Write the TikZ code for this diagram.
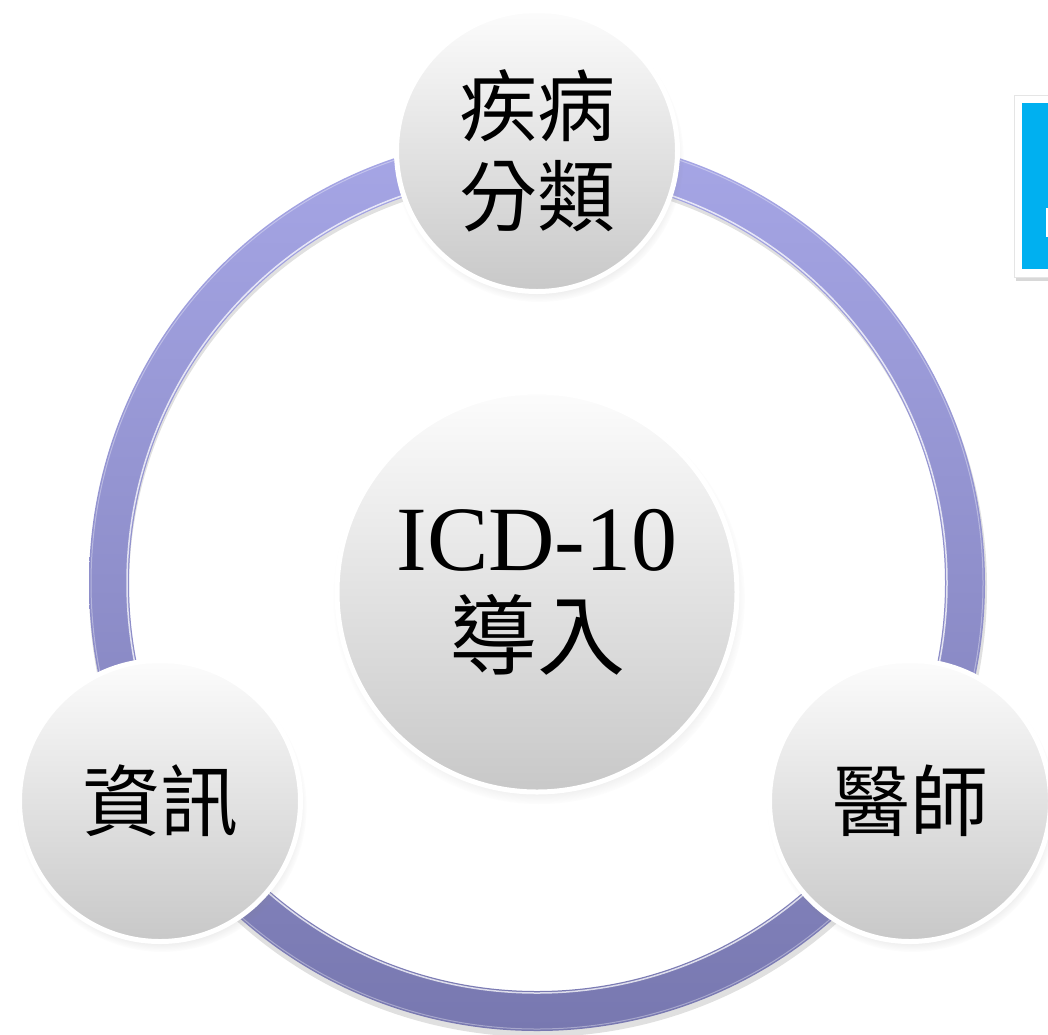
\documentclass[tikz,border=0pt]{standalone}
\usepackage{fontspec}
\newfontfamily\cjk{Noto Sans CJK TC}
\newfontfamily\latinserif{Liberation Serif}
\usetikzlibrary{shadows}
\definecolor{ringtop}{RGB}{166,166,230}
\definecolor{ringbot}{RGB}{120,120,176}
\definecolor{balltop}{RGB}{252,252,252}
\definecolor{ballbot}{RGB}{200,200,200}
\definecolor{boxblue}{RGB}{0,176,240}
\tikzset{
  ball/.style={circle, draw=white, line width=5pt, top color=balltop, bottom color=ballbot,
    circular drop shadow={shadow scale=1.03, shadow xshift=2pt, shadow yshift=-6pt, opacity=0.3},
    inner sep=0pt, align=center, text=black},
  balltext/.style={font=\cjk\fontsize{78}{90}\selectfont},
}
\begin{document}
\begin{tikzpicture}[x=1pt,y=-1pt]
\useasboundingbox (0,0) rectangle (1048,1034);
\fill[white] (0,0) rectangle (1048,1034);
% ring shadow
\fill[black, opacity=0.12, even odd rule] (538,588) circle (449pt) (538,588) circle (409pt);
% ring
\shade[top color=ringtop, bottom color=ringbot, even odd rule]
  (537,583) circle (448pt) (537,583) circle (408pt);
\draw[white, opacity=0.75, line width=1.5pt] (537,583) circle (410pt);
\draw[white, opacity=0.35, line width=1pt] (537,583) circle (446pt);
% blue box at the right edge
\node[fill=white, draw=black!10, line width=0.5pt, minimum width=50pt, minimum height=182pt, inner sep=0pt,
  drop shadow={shadow xshift=2pt, shadow yshift=-4pt, opacity=0.3}] (boxframe) at (1039,186) {};
\node[fill=boxblue, minimum width=40pt, minimum height=166pt, inner sep=0pt] (box) at (1042,186) {};
\fill[white] (1046,208) rectangle (1049,237);
% circles
\node[ball, balltext, minimum size=281pt] (top) at (537,151) {疾病\\分類};
\node[ball, balltext, minimum size=281pt] (left) at (160,801) {資訊};
\node[ball, balltext, minimum size=281pt] (right) at (910,801) {醫師};
\node[ball, minimum size=400pt, font=\cjk\fontsize{88}{98}\selectfont] (center) at (537,592)
  {{\latinserif\fontsize{92}{98}\selectfont ICD-10}\\導入};
\end{tikzpicture}
\end{document}
